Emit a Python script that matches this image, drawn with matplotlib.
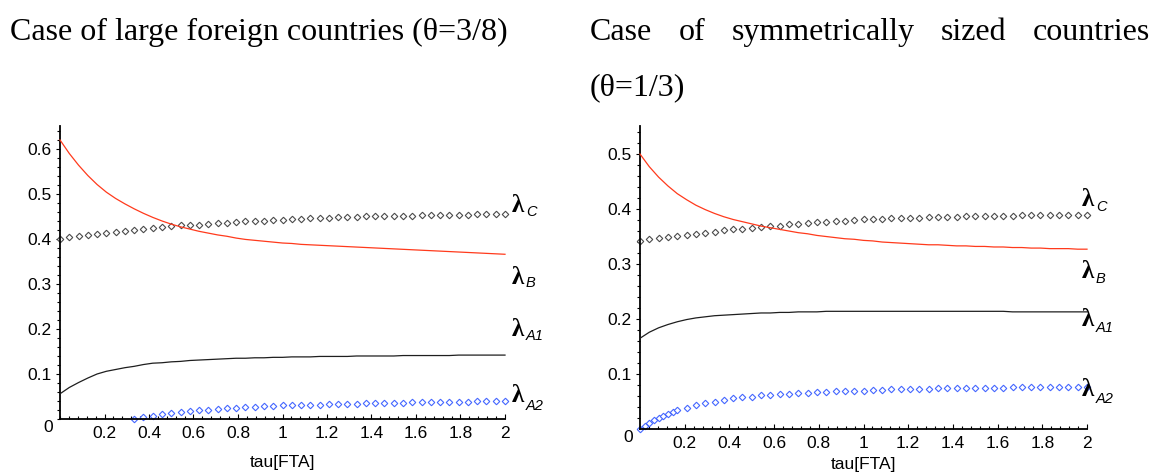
import numpy as np
import matplotlib
matplotlib.use("Agg")
import matplotlib.pyplot as plt
from matplotlib.ticker import FixedLocator, MultipleLocator

W, H, DPI = 1164, 472, 100

# sample grid in tau[FTA]
tau = np.linspace(0.0, 2.0, 49)

# ---- large foreign countries, theta = 3/8 ----
large_lambda_b = [
    0.620, 0.590, 0.564, 0.541, 0.521,
    0.504, 0.490, 0.478, 0.467, 0.457,
    0.448, 0.440, 0.433, 0.427, 0.422,
    0.417, 0.413, 0.409, 0.406, 0.402,
    0.399, 0.397, 0.395, 0.393, 0.391,
    0.390, 0.388, 0.387, 0.386, 0.385,
    0.384, 0.383, 0.382, 0.381, 0.380,
    0.379, 0.378, 0.377, 0.376, 0.375,
    0.374, 0.373, 0.372, 0.371, 0.370,
    0.369, 0.368, 0.367, 0.366,
]
large_lambda_c = [
    0.401, 0.404, 0.407, 0.409, 0.412,
    0.414, 0.416, 0.418, 0.420, 0.422,
    0.424, 0.426, 0.429, 0.430, 0.431,
    0.432, 0.434, 0.435, 0.436, 0.437,
    0.439, 0.440, 0.441, 0.442, 0.443,
    0.444, 0.445, 0.446, 0.446, 0.447,
    0.448, 0.448, 0.449, 0.450, 0.450,
    0.451, 0.451, 0.452, 0.452, 0.453,
    0.453, 0.453, 0.454, 0.454, 0.454,
    0.455, 0.455, 0.455, 0.456,
]
large_lambda_a1 = [
    0.056, 0.070, 0.081, 0.091, 0.100,
    0.106, 0.110, 0.114, 0.117, 0.121,
    0.124, 0.125, 0.127, 0.128, 0.130,
    0.131, 0.132, 0.133, 0.134, 0.135,
    0.135, 0.136, 0.136, 0.137, 0.137,
    0.138, 0.138, 0.138, 0.139, 0.139,
    0.139, 0.139, 0.140, 0.140, 0.140,
    0.140, 0.140, 0.141, 0.141, 0.141,
    0.141, 0.141, 0.141, 0.142, 0.142,
    0.142, 0.142, 0.142, 0.142,
]
large_tau_a2 = tau[8:]
large_lambda_a2 = [
    0.001, 0.004, 0.007, 0.010, 0.013,
    0.015, 0.017, 0.019, 0.021, 0.022,
    0.024, 0.025, 0.026, 0.027, 0.028,
    0.029, 0.030, 0.030, 0.031, 0.032,
    0.032, 0.033, 0.033, 0.034, 0.034,
    0.035, 0.035, 0.036, 0.036, 0.036,
    0.037, 0.037, 0.037, 0.038, 0.038,
    0.038, 0.038, 0.039, 0.039, 0.039,
    0.039,
]

# ---- symmetrically sized countries, theta = 1/3 ----
sym_lambda_b = [
    0.500, 0.477, 0.458, 0.442, 0.428,
    0.417, 0.407, 0.399, 0.392, 0.386,
    0.381, 0.377, 0.373, 0.369, 0.366,
    0.363, 0.360, 0.357, 0.355, 0.352,
    0.350, 0.348, 0.346, 0.345, 0.343,
    0.342, 0.340, 0.339, 0.338, 0.337,
    0.336, 0.335, 0.335, 0.334, 0.333,
    0.333, 0.332, 0.332, 0.331, 0.331,
    0.330, 0.330, 0.329, 0.329, 0.328,
    0.328, 0.328, 0.327, 0.327,
]
sym_lambda_c = [
    0.342, 0.345, 0.347, 0.349, 0.351,
    0.353, 0.355, 0.357, 0.359, 0.361,
    0.363, 0.364, 0.366, 0.367, 0.369,
    0.370, 0.372, 0.373, 0.375, 0.376,
    0.377, 0.378, 0.379, 0.380, 0.381,
    0.381, 0.382, 0.383, 0.383, 0.384,
    0.384, 0.385, 0.385, 0.386, 0.386,
    0.387, 0.387, 0.387, 0.388, 0.388,
    0.388, 0.389, 0.389, 0.389, 0.389,
    0.390, 0.390, 0.390, 0.390,
]
sym_lambda_a1 = [
    0.165, 0.176, 0.184, 0.190, 0.195,
    0.199, 0.202, 0.204, 0.206, 0.207,
    0.208, 0.209, 0.210, 0.211, 0.211,
    0.212, 0.212, 0.213, 0.213, 0.213,
    0.214, 0.214, 0.214, 0.214, 0.214,
    0.214, 0.214, 0.214, 0.214, 0.214,
    0.214, 0.214, 0.214, 0.214, 0.214,
    0.214, 0.214, 0.214, 0.214, 0.214,
    0.213, 0.213, 0.213, 0.213, 0.213,
    0.213, 0.213, 0.213, 0.213,
]
# refined sampling near tau = 0 for lambda_A2
sym_tau_a2 = np.concatenate([
    [0.0, 0.0208, 0.0417, 0.0625, 0.0833, 0.1042, 0.125, 0.1458],
    tau[4:],
])
sym_lambda_a2 = [
    0.000, 0.006, 0.011, 0.016, 0.020, 0.024, 0.027, 0.031,
    0.034, 0.039, 0.043, 0.047, 0.050,
    0.053, 0.056, 0.058, 0.059, 0.061,
    0.062, 0.063, 0.064, 0.065, 0.066,
    0.067, 0.068, 0.069, 0.069, 0.070,
    0.070, 0.071, 0.071, 0.072, 0.072,
    0.073, 0.073, 0.073, 0.074, 0.074,
    0.074, 0.074, 0.075, 0.075, 0.075,
    0.075, 0.076, 0.076, 0.076, 0.076,
    0.076, 0.076, 0.076, 0.076, 0.076,
]

x_tick_values = [0.2, 0.4, 0.6, 0.8, 1.0, 1.2, 1.4, 1.6, 1.8, 2.0]
x_tick_labels = ["0.2", "0.4", "0.6", "0.8", "1", "1.2", "1.4", "1.6", "1.8", "2"]
large_y_ticks = [0.1, 0.2, 0.3, 0.4, 0.5, 0.6]
sym_y_ticks = [0.1, 0.2, 0.3, 0.4, 0.5]

RED = "#ff3a1c"
DARK = "#1e1e1e"
GREY = "#4a4a4a"
BLUE = "#4466ff"

SERIF = "Liberation Serif"
SANS = "Liberation Sans"


def fx(px):
    return px / W


def fy(py):
    return 1.0 - py / H


fig = plt.figure(figsize=(W / DPI, H / DPI), dpi=DPI)
fig.patch.set_facecolor("white")


def panel(rect, ymax, y_ticks, b, c, a1, tau_a2, a2):
    ax = fig.add_axes(rect)
    ax.set_xlim(0, 2)
    ax.set_ylim(0, ymax)
    for side in ("top", "right"):
        ax.spines[side].set_visible(False)
    for side in ("left", "bottom"):
        ax.spines[side].set_linewidth(1.3)
        ax.spines[side].set_color("black")

    ax.plot(tau, b, color=RED, lw=0.9, clip_on=False, zorder=3)
    ax.plot(tau, a1, color=DARK, lw=0.9, clip_on=False, zorder=3)
    ax.plot(tau, c, ls="none", marker="D", ms=3.3, mfc="white",
            mec=GREY, mew=0.8, clip_on=False, zorder=2)
    ax.plot(tau_a2, a2, ls="none", marker="D", ms=3.3, mfc="white",
            mec=BLUE, mew=0.8, clip_on=False, zorder=2)

    ax.xaxis.set_major_locator(FixedLocator(x_tick_values))
    ax.set_xticklabels(x_tick_labels)
    ax.xaxis.set_minor_locator(MultipleLocator(0.04))
    ax.yaxis.set_major_locator(FixedLocator(y_ticks))
    ax.set_yticklabels([f"{v:.1f}" for v in y_ticks])
    ax.yaxis.set_minor_locator(MultipleLocator(0.02))

    ax.tick_params(axis="x", which="both", direction="in", width=0.8,
                   labelsize=12.5, pad=5, colors="black")
    ax.tick_params(axis="x", which="major", length=3.5)
    ax.tick_params(axis="x", which="minor", length=2.2)
    ax.tick_params(axis="y", which="both", direction="out", width=0.8,
                   labelsize=12.5, pad=3, colors="black")
    ax.tick_params(axis="y", which="major", length=3.0)
    ax.tick_params(axis="y", which="minor", length=2.0)
    for lab in ax.get_xticklabels() + ax.get_yticklabels():
        lab.set_family(SANS)

    ax.set_xlabel("tau[FTA]", family=SANS, fontsize=12.5)
    ax.xaxis.label.set_va("center")
    return ax


# left panel: x 60..505 px, y 0 at 419 px, top 126 px
axL = panel([fx(60), fy(419), 445 / W, 293 / H], 0.651, large_y_ticks,
            large_lambda_b, large_lambda_c, large_lambda_a1,
            large_tau_a2, large_lambda_a2)
axL.xaxis.set_label_coords(0.5, (419 - 463) / 293)
fig.text(fx(48), fy(428), "0", family=SANS, fontsize=12.5,
         ha="center", va="center")

# right panel: x 640..1087 px, y 0 at 429 px, top 126 px
axR = panel([fx(640), fy(429), 447 / W, 303 / H], 0.551, sym_y_ticks,
            sym_lambda_b, sym_lambda_c, sym_lambda_a1,
            sym_tau_a2, sym_lambda_a2)
axR.xaxis.set_label_coords(0.5, (429 - 465) / 303)
fig.text(fx(628), fy(437), "0", family=SANS, fontsize=12.5,
         ha="center", va="center")


# curve labels: lambda with italic subscript
def lam(x, y, sub, sy):
    fig.text(fx(x), fy(y), "\u03bb", family=SERIF, fontsize=18,
             fontweight="bold", ha="left", va="center")
    fig.text(fx(x + 14), fy(sy), sub, family=SANS, style="italic",
             fontsize=10.5, ha="left", va="center")


lam(512, 205, "C", 212)
lam(512, 277, "B", 283)
lam(512, 329, "A1", 336)
lam(512, 396, "A2", 406)

lam(1082, 199, "C", 207)
lam(1082, 272, "B", 279)
lam(1082, 320, "A1", 328)
lam(1082, 390, "A2", 399)

# headings
TITLE_SIZE = 23
fig.text(fx(10), fy(40), "Case of large foreign countries (\u03b8=3/8)",
         family=SERIF, fontsize=TITLE_SIZE, ha="left", va="baseline")

# justified first line of the right heading
words = ["Case", "of", "symmetrically", "sized", "countries"]
line_left, line_right = 590, 1150
word_texts = [fig.text(0, fy(40), w, family=SERIF, fontsize=TITLE_SIZE,
                       ha="left", va="baseline") for w in words]
renderer = fig.canvas.get_renderer()
widths = [t.get_window_extent(renderer=renderer).width for t in word_texts]
gap = (line_right - line_left - sum(widths)) / (len(words) - 1)
xpos = line_left
for t, wdt in zip(word_texts, widths):
    t.set_x(fx(xpos))
    xpos += wdt + gap
fig.text(fx(590), fy(95), "(\u03b8=1/3)", family=SERIF,
         fontsize=TITLE_SIZE, ha="left", va="baseline")

fig.savefig("out.png", dpi=DPI, facecolor="white")
